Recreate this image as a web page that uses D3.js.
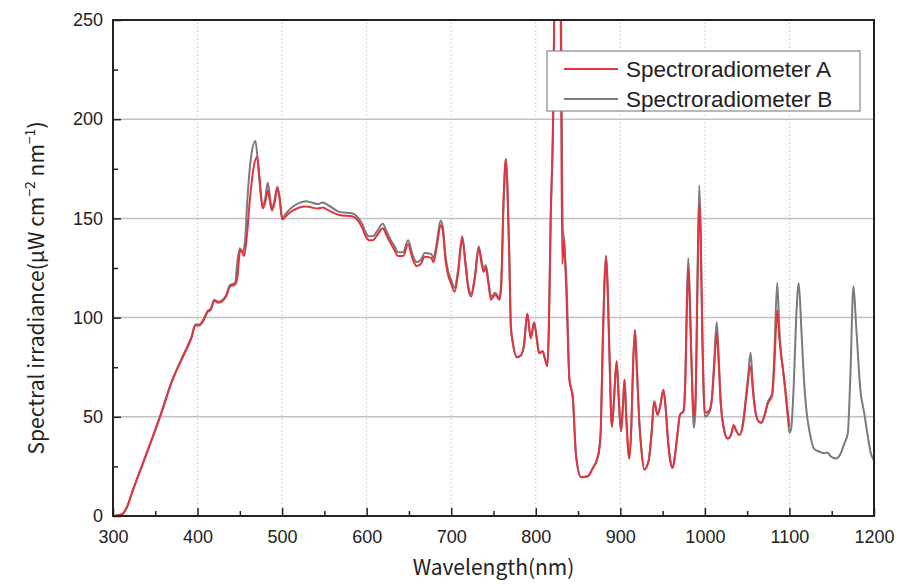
<!DOCTYPE html>
<html>
<head>
<meta charset="utf-8">
<script src="https://cdn.jsdelivr.net/npm/d3@7"></script>
<style>
  body { margin: 0; background: #fff; }
  .tick-label { font-family: "Liberation Sans", Arial, sans-serif; font-size: 18px; fill: #222; }
  .title { font-family: "Noto Sans CJK JP", "Noto Sans", sans-serif; font-size: 21px; fill: #222; }
  .legend-text { font-family: "Liberation Sans", Arial, sans-serif; font-size: 22.5px; fill: #222; }
</style>
</head>
<body>
<div class="chart"></div>
<script>
// Spectral irradiance, [wavelength nm, uW cm-2 nm-1]
const seriesA = [
  [300,0],[305,0.2],[311.8,1.2],[317,5],[323.5,13],[335.3,26.4],[347,39.8],[357,51.6],[368.7,66.7],
  [382.4,80],[388,85],[393,90],[397.3,96],[402,96],[405.9,97.7],[411.8,102.8],[415.7,104],[419.6,108.4],
  [424.7,107.5],[433.4,110.4],[438.5,115.8],[444.4,116.6],[447,120],[450,133],[452,134],[455,131],
  [458,140],[462,160],[466,175],[470.4,181],[473,172],[477,155],[480,158],[483,164],[485,160],[488,154],
  [491,158],[494.4,165],[497,160],[500,149.5],[506.6,152],[513,154],[520.4,155.5],[527.8,156],[535,155.5],
  [542,155],[548,155.5],[555,154],[567.7,151.7],[583.5,151],[589.5,149],[595,145],[599,140.7],[603,139],
  [607,139],[613,142],[619,145],[624,141],[629,137],[633,134],[637,131],[643,131],[649,137],[654,130],
  [659,126],[664,127],[668.6,130.7],[676.5,130],[679,128],[683,136],[687.4,146.6],[690,144],[693,130],
  [696,122],[700,117],[704,113],[708,122],[713,140],[717,126],[720,115],[723.5,110.6],[728,120],[732.5,135],
  [736,127],[738.4,123],[741,125],[744,117],[747,109],[752,111.4],[757,109],[759,115],[762,160],[764.7,180],
  [766.5,165],[768.6,132],[770.6,95],[772.6,88],[777.8,80],[782.5,81],[786,86],[790,102],[794,89.6],
  [798,97.5],[801,90],[804,82],[808,83],[811,79],[813.7,75.5],[815.5,95],[817.6,149],[820.5,200],[823,300],
  [825.5,340],[828,300],[829.5,250],[831.3,127],[833.3,139],[834.5,130],[836,115],[839.8,68.7],[843.7,60],
  [847.7,30],[853.6,19.5],[861.4,20],[867.3,24],[872,28],[875,33.4],[877,45],[879,83.7],[881,115],
  [883.1,131],[885,115],[887,83.7],[890,45],[892,55],[895.6,78],[898,60],[900.8,42.7],[903,55],[905,68.7],
  [907,50],[910.6,29],[913,45],[915,75],[917.3,93.8],[919.5,75],[922.5,47],[925,33],[928.3,23.4],[933.5,28],
  [937,42],[940,57.7],[944,51],[947,55],[951,63.6],[953.5,55],[956,40],[959,28],[961.8,24.2],[964.5,30],
  [967.7,41.8],[970.5,51],[974.7,53],[977,70],[978.5,100],[980.3,124.8],[982,110],[984,80],[987,50],
  [989,60],[991,110],[993.3,157.5],[995,140],[997,90],[1000,52],[1005,53],[1008,58],[1011,75],[1014,92.8],
  [1016,80],[1019,55],[1022,45],[1027,39],[1031,41],[1034,45.8],[1037,43],[1041,40.8],[1045,46],[1049,60],
  [1054,75.5],[1057,62],[1060,52],[1064,47.5],[1067,47],[1070,50],[1074.5,56.7],[1079.6,61],[1082,75],
  [1085.5,103.7],[1088,90],[1092,75],[1095,65],[1098,52],[1100,45]
];

const seriesB = [
  [300,0],[305,0.2],[311.8,1.2],[317,5],[323.5,13],[335.3,26.6],[347,40],[357,52],[368.7,67],
  [382.4,80.5],[388,85.5],[393,90.5],[397.3,96.5],[402,96.5],[405.9,98.2],[411.8,103.3],[415.7,104.5],
  [419.6,109],[424.7,108],[433.4,111],[438.5,116.5],[444.4,117.5],[447,128],[450,135],[453,133],[456,138],
  [459,160],[463,180],[468.4,189],[471,180],[474,165],[477,156],[480,160],[483,168],[485,163],[488,155],
  [491,159],[494.4,166],[497,161],[500,150.5],[506.6,153.5],[513,156],[520.4,157.8],[527.8,158.6],[535,158],
  [542,157.2],[548,158],[555,156.5],[567.7,153.3],[583.5,152.5],[589.5,150.5],[595,147],[599,142.7],
  [603,141],[607,141],[613,144],[619,147.3],[624,143],[629,138.6],[633,136],[637,133],[643,133],[649,139],
  [654,132],[659,128],[664,129],[668.6,132.5],[676.5,132],[679,130],[683,138],[687.4,149],[690,146],
  [693,132],[696,124],[700,119],[704,115],[708,123.5],[713,141],[717,127.5],[720,116.5],[723.5,112],
  [728,121],[732.5,136],[736,128.5],[738.4,124.5],[741,126.5],[744,118.5],[747,110.5],[752,112.5],[757,110],
  [759,116],[762,160],[764.7,180],[766.5,165],[768.6,132],[770.6,95],[772.6,88],[777.8,80],[782.5,81],
  [786,86],[790,102],[794,89.6],[798,97.5],[801,90],[804,82],[808,83],[811,79],[813.7,75.5],[815.5,95],
  [817.6,149],[820.5,200],[823,300],[825.5,340],[828,300],[830,250],[831.8,145],[833.3,140],[834.5,132],
  [836.5,116],[839.8,68.7],[843.7,60],[847.7,30],[853.6,19.5],[861.4,20],[867.3,24],[872,28],[875,33.4],
  [877,45],[879,83.7],[881,115],[883.1,131],[885,115],[887,83.7],[890,45],[892,55],[895.6,78],[898,60],
  [900.8,42.7],[903,55],[905,68.7],[907,50],[910.6,29],[913,45],[915,75],[917.3,93.8],[919.5,75],[922.5,47],
  [925,33],[928.3,23.4],[933.5,28],[937,42],[940,57.7],[944,51],[947,55],[951,63.6],[953.5,55],[956,40],
  [959,28],[961.8,24.2],[964.5,30],[967.7,41.8],[970.5,51],[974.7,53],[977,72],[978.5,105],[980.3,130],
  [982,113],[984,80],[987,44.4],[989,55],[991,112],[993.3,166.7],[995,145],[997,92],[1000,50],[1005,52],
  [1008,58],[1011,78],[1014,97.8],[1016,83],[1019,56],[1022,45],[1027,39],[1031,41],[1034,45.8],[1037,43],
  [1041,40.8],[1045,47],[1049,62],[1051,70],[1054,82.4],[1057,64],[1060,52],[1064,47.5],[1067,47],[1070,50],
  [1074.5,57.5],[1079.6,62],[1082,80],[1085.5,117.6],[1088,95],[1090,82],[1092,75],[1095,63],[1098,50],
  [1100,42],[1102,44],[1105,65],[1108,100],[1111,117.5],[1114,95],[1117,70],[1119.6,55],[1124,42],
  [1129,34],[1135,32.5],[1141,31.6],[1145,32],[1149,30],[1155,29],[1160,31],[1165,36.6],[1169,41.7],
  [1172,70],[1175.7,115.8],[1179,95],[1184.3,61.8],[1188,53],[1192,42],[1196,32],[1200,28]
];

const seriesNames = ["Spectroradiometer A", "Spectroradiometer B"];
const xTicks = [300, 400, 500, 600, 700, 800, 900, 1000, 1100, 1200];
const xMinorTicks = [350, 450, 550, 650, 750, 850, 950, 1050, 1150];
const yTicks = [0, 50, 100, 150, 200, 250];
const yMinorTicks = [25, 75, 125, 175, 225];

const width = 915, height = 584;
const margin = { top: 20, right: 41, bottom: 68, left: 113 };
const colorA = "#e0353f", colorB = "#7b7b7b";

const svg = d3.select(".chart").append("svg")
  .attr("width", width)
  .attr("height", height);

const xScale = d3.scaleLinear().domain([300, 1200]).range([margin.left, width - margin.right]);
const yScale = d3.scaleLinear().domain([0, 250]).range([height - margin.bottom, margin.top]);

// grid lines
svg.append("g")
  .selectAll("line")
  .data(xTicks.slice(1, -1))
  .enter()
  .append("line")
  .attr("x1", d => xScale(d)).attr("x2", d => xScale(d))
  .attr("y1", yScale(0)).attr("y2", yScale(250))
  .attr("stroke", "#c4c4c4")
  .attr("stroke-width", 1)
  .attr("stroke-dasharray", "1.5,2.5");

svg.append("g")
  .selectAll("line")
  .data(yTicks.slice(1, -1))
  .enter()
  .append("line")
  .attr("x1", xScale(300)).attr("x2", xScale(1200))
  .attr("y1", d => yScale(d)).attr("y2", d => yScale(d))
  .attr("stroke", "#c2c2c2")
  .attr("stroke-width", 1.5);

// clip so the big 820 nm peak runs off the top
svg.append("clipPath").attr("id", "plot-clip")
  .append("rect")
  .attr("x", xScale(300)).attr("y", yScale(250))
  .attr("width", xScale(1200) - xScale(300))
  .attr("height", yScale(0) - yScale(250));

const line = d3.line()
  .x(d => xScale(d[0]))
  .y(d => yScale(d[1]))
  .curve(d3.curveMonotoneX);

const plot = svg.append("g").attr("clip-path", "url(#plot-clip)");

plot.append("path")
  .datum(seriesB)
  .attr("fill", "none")
  .attr("stroke", colorB)
  .attr("stroke-width", 2)
  .attr("d", line);

plot.append("path")
  .datum(seriesA)
  .attr("fill", "none")
  .attr("stroke", colorA)
  .attr("stroke-width", 2)
  .attr("d", line);

// axes with inward ticks
const xAxis = svg.append("g")
  .attr("transform", `translate(0, ${yScale(0)})`)
  .call(d3.axisBottom(xScale).tickValues(xTicks).tickSize(-8).tickPadding(14).tickFormat(d3.format("d")));
const xAxisMinor = svg.append("g")
  .attr("transform", `translate(0, ${yScale(0)})`)
  .call(d3.axisBottom(xScale).tickValues(xMinorTicks).tickSize(-5).tickFormat(""));

const yAxis = svg.append("g")
  .attr("transform", `translate(${xScale(300)}, 0)`)
  .call(d3.axisLeft(yScale).tickValues(yTicks).tickSize(-8).tickPadding(10));
const yAxisMinor = svg.append("g")
  .attr("transform", `translate(${xScale(300)}, 0)`)
  .call(d3.axisLeft(yScale).tickValues(yMinorTicks).tickSize(-5).tickFormat(""));

[xAxis, xAxisMinor, yAxis, yAxisMinor].forEach(g => {
  g.select(".domain").remove();
  g.selectAll(".tick line").attr("stroke", "#222").attr("stroke-width", 1.5);
  g.selectAll(".tick text").attr("class", "tick-label").attr("font-size", null).attr("font-family", null);
});

// frame
svg.append("rect")
  .attr("x", xScale(300)).attr("y", yScale(250))
  .attr("width", xScale(1200) - xScale(300))
  .attr("height", yScale(0) - yScale(250))
  .attr("fill", "none")
  .attr("stroke", "#222")
  .attr("stroke-width", 2);

// axis titles
svg.append("text")
  .attr("class", "title")
  .attr("x", (xScale(300) + xScale(1200)) / 2)
  .attr("y", height - 9)
  .attr("text-anchor", "middle")
  .text("Wavelength(nm)");

const yTitle = svg.append("text")
  .attr("class", "title")
  .attr("transform", `translate(44, ${(yScale(0) + yScale(250)) / 2 + 20}) rotate(-90)`)
  .attr("text-anchor", "middle");
yTitle.append("tspan").text("Spectral irradiance(\u03bcW cm");
yTitle.append("tspan").attr("dy", -9).attr("font-size", 14).text("\u22122");
yTitle.append("tspan").attr("dy", 9).text(" nm");
yTitle.append("tspan").attr("dy", -9).attr("font-size", 14).text("\u22121");
yTitle.append("tspan").attr("dy", 9).text(")");

// legend
const legend = svg.append("g").attr("transform", "translate(547, 51)");
legend.append("rect")
  .attr("width", 313).attr("height", 60)
  .attr("fill", "#fff")
  .attr("stroke", "#8a8a8a")
  .attr("stroke-width", 1.2);

legend.selectAll(".legend-item")
  .data(seriesNames)
  .enter()
  .append("g")
  .attr("transform", (d, i) => `translate(0, ${18 + i * 30})`)
  .each(function (d, i) {
    const g = d3.select(this);
    g.append("line")
      .attr("x1", 17).attr("x2", 71)
      .attr("stroke", i === 0 ? colorA : colorB)
      .attr("stroke-width", 2);
    g.append("text")
      .attr("class", "legend-text")
      .attr("x", 79).attr("y", 8)
      .text(d);
  });
</script>
</body>
</html>
